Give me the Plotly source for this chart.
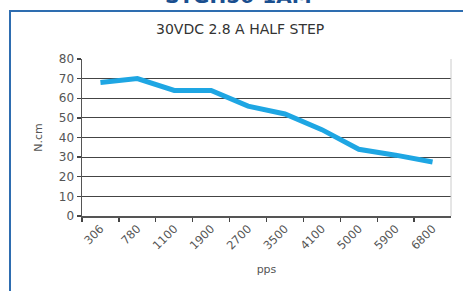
import plotly.graph_objects as go

categories = ["306", "780", "1100", "1900", "2700", "3500", "4100", "5000", "5900", "6800"]
torque = [68, 70, 64, 64, 56, 52, 44, 34, 31, 27.5]
y_ticks = [0, 10, 20, 30, 40, 50, 60, 70, 80]

W, H = 463, 291
x0, x1 = 82, 451
y_top, y_bot = 59, 216

fig = go.Figure()
fig.add_trace(go.Scatter(
    x=categories, y=torque, mode="lines",
    line=dict(color="#1ea6e3", width=5), hoverinfo="skip", showlegend=False,
))

fig.update_layout(
    width=W, height=H,
    margin=dict(l=0, r=0, t=0, b=0, autoexpand=False),
    paper_bgcolor="white", plot_bgcolor="white",
    font=dict(family="DejaVu Sans", color="#444"),
    xaxis=dict(
        domain=[x0 / W, x1 / W], automargin=False,
        type="category", range=[-0.5, 9.5],
        tickson="boundaries", ticks="outside", ticklen=4, tickwidth=1.3, tickcolor="#444",
        showgrid=False, showline=True, linecolor="#555", linewidth=1.5,
        tickangle=-45, tickfont=dict(size=11.5, color="#555"),
        title=dict(text="pps", font=dict(size=11, color="#555"), standoff=14),
        fixedrange=True,
    ),
    yaxis=dict(
        domain=[1 - y_bot / H, 1 - y_top / H], automargin=False,
        range=[0, 80], tickvals=y_ticks,
        ticks="outside", ticklen=4, tickwidth=1.3, tickcolor="#444",
        showgrid=True, gridcolor="#444", gridwidth=1,
        showline=True, linecolor="#555", linewidth=1.5,
        zeroline=False,
        tickfont=dict(size=12, color="#555"),
        title=dict(text="N.cm", font=dict(size=11, color="#555"), standoff=14),
        fixedrange=True,
    ),
    shapes=[
        dict(type="rect", xref="paper", yref="paper",
             x0=10 / W, x1=1.02, y0=-0.05, y1=1 - 11 / H,
             line=dict(color="#2e6db0", width=2)),
        dict(type="line", xref="paper", yref="paper",
             x0=x1 / W, x1=x1 / W, y0=1 - y_bot / H, y1=1 - y_top / H,
             line=dict(color="#cccccc", width=1)),
    ],
    annotations=[
        dict(text="30VDC 2.8 A HALF STEP", xref="paper", yref="paper",
             x=240 / W, y=1 - 29 / H, xanchor="center", yanchor="middle",
             showarrow=False, font=dict(size=14, color="#333")),
        dict(text="<b>STGH56-1AM</b>", xref="paper", yref="paper",
             x=238 / W, y=1 - 10 / H, xanchor="center", yanchor="bottom",
             showarrow=False, font=dict(size=20, color="#1a4f8f")),
    ],
)

fig.write_html(
    "out.html",
    config={"displayModeBar": False, "staticPlot": True},
    post_script="document.body.style.margin='0';document.body.style.overflow='hidden';",
)
